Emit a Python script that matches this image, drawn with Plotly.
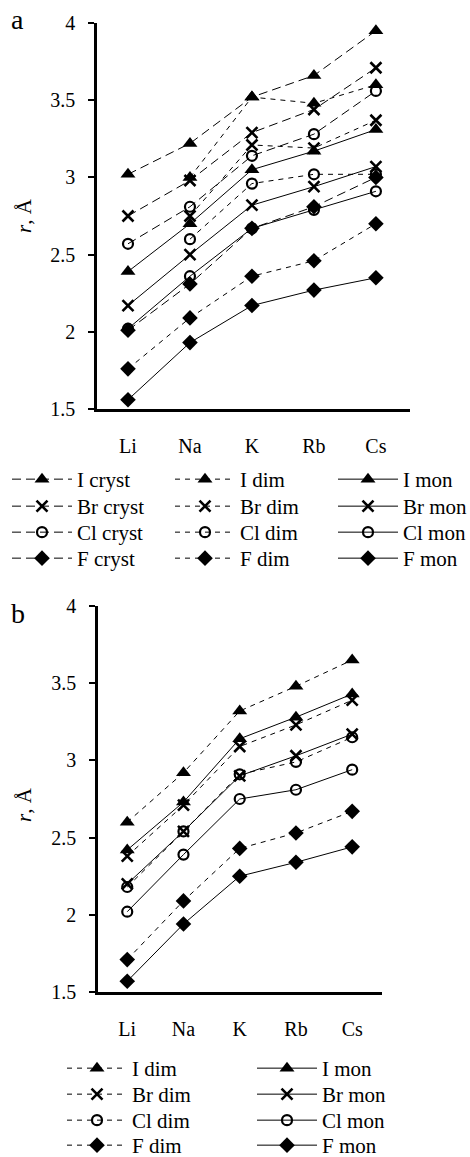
import plotly.graph_objects as go

W, H = 470, 1157

metals = ["Li", "Na", "K", "Rb", "Cs"]
halogens = ["I", "Br", "Cl", "F"]
y_ticks = [1.5, 2, 2.5, 3, 3.5, 4]
y_tick_text = ["1.5", "2", "2.5", "3", "3.5", "4"]

# ---- panel a ----
a_I_cryst = [3.02, 3.22, 3.52, 3.66, 3.95]
a_Br_cryst = [2.75, 2.98, 3.29, 3.44, 3.71]
a_Cl_cryst = [2.57, 2.81, 3.14, 3.28, 3.56]
a_F_cryst = [2.01, 2.31, 2.67, 2.81, 3.00]

a_I_dim = [None, 3.00, 3.52, 3.48, 3.60]
a_Br_dim = [None, 2.75, 3.21, 3.19, 3.37]
a_Cl_dim = [None, 2.60, 2.96, 3.02, 3.02]
a_F_dim = [1.76, 2.09, 2.36, 2.46, 2.70]

a_I_mon = [2.39, 2.70, 3.05, 3.17, 3.31]
a_Br_mon = [2.17, 2.50, 2.82, 2.94, 3.07]
a_Cl_mon = [2.02, 2.36, 2.67, 2.79, 2.91]
a_F_mon = [1.56, 1.93, 2.17, 2.27, 2.35]

# ---- panel b ----
b_I_dim = [2.60, 2.92, 3.32, 3.48, 3.65]
b_Br_dim = [2.38, 2.71, 3.09, 3.23, 3.39]
b_Cl_dim = [2.18, 2.54, 2.91, 2.99, 3.15]
b_F_dim = [1.71, 2.09, 2.43, 2.53, 2.67]

b_I_mon = [2.42, 2.73, 3.14, 3.28, 3.43]
b_Br_mon = [2.20, 2.54, 2.90, 3.03, 3.17]
b_Cl_mon = [2.02, 2.39, 2.75, 2.81, 2.94]
b_F_mon = [1.57, 1.94, 2.25, 2.34, 2.44]

FONT = "Liberation Serif, Times New Roman, serif"
LEG_FONT = 21
ITEM_OFF = 21  # distance from legend top to item centre

marker_style = {
    "I": dict(symbol="triangle-up", size=13, color="black"),
    "Br": dict(symbol="x-thin", size=11, color="black", line=dict(width=2.6, color="black")),
    "Cl": dict(symbol="circle-open", size=10, color="black", line=dict(width=2.2, color="black")),
    "F": dict(symbol="diamond", size=12, color="black"),
}
dash_style = {"cryst": "9px,5px", "dim": "5px,5px", "mon": "solid"}

x_idx = list(range(len(metals)))


def px_x(p):
    return p / W


def px_y(p):
    return 1 - p / H


fig = go.Figure()
legend_layouts = {}
leg_common = dict(
    bgcolor="rgba(0,0,0,0)", borderwidth=0, itemwidth=60,
    font=dict(family=FONT, size=LEG_FONT, color="black"),
    xanchor="left", yanchor="top", xref="paper", yref="paper",
    itemclick=False, itemdoubleclick=False, visible=True,
)
counter = [0]


def add(vals, hal, kind, xa, ya, lx, ly):
    counter[0] += 1
    key = "legend" if counter[0] == 1 else f"legend{counter[0]}"
    fig.add_trace(go.Scatter(
        x=x_idx, y=vals, mode="lines+markers",
        name=f"{hal} {kind}", showlegend=True,
        line=dict(color="black", width=1, dash=dash_style[kind]),
        marker=marker_style[hal],
        xaxis=xa, yaxis=ya, legend=key,
    ))
    legend_layouts[key] = dict(x=px_x(lx), y=px_y(ly - ITEM_OFF), **leg_common)


panel_a = {
    "cryst": [a_I_cryst, a_Br_cryst, a_Cl_cryst, a_F_cryst],
    "dim": [a_I_dim, a_Br_dim, a_Cl_dim, a_F_dim],
    "mon": [a_I_mon, a_Br_mon, a_Cl_mon, a_F_mon],
}
panel_b = {
    "dim": [b_I_dim, b_Br_dim, b_Cl_dim, b_F_dim],
    "mon": [b_I_mon, b_Br_mon, b_Cl_mon, b_F_mon],
}

rows_a = [480, 507, 533, 559]
rows_b = [1069, 1095, 1121, 1146]
cols_a = {"cryst": 7, "dim": 170, "mon": 333}
cols_b = {"dim": 62, "mon": 252}

for kind in ["cryst", "dim", "mon"]:
    for hal, vals, ry in zip(halogens, panel_a[kind], rows_a):
        add(vals, hal, kind, "x", "y", cols_a[kind], ry)
for kind in ["dim", "mon"]:
    for hal, vals, ry in zip(halogens, panel_b[kind], rows_b):
        add(vals, hal, kind, "x2", "y2", cols_b[kind], ry)

xcommon = dict(
    tickvals=x_idx, ticktext=metals, showline=True, linecolor="black", linewidth=2.5,
    ticks="", showgrid=False, zeroline=False, ticklabelstandoff=17, automargin=False,
    tickfont=dict(family=FONT, size=20, color="black"),
)
ycommon = dict(
    range=[1.5, 4], tickvals=y_ticks, ticktext=y_tick_text, showline=True,
    linecolor="black", linewidth=2.5, ticks="outside", ticklen=6, tickwidth=2,
    tickcolor="black", showgrid=False, zeroline=False, ticklabelstandoff=9,
    automargin=False,
    tickfont=dict(family=FONT, size=20, color="black"),
)

fig.update_layout(
    width=W, height=H, margin=dict(l=0, r=0, t=0, b=0, autoexpand=False),
    paper_bgcolor="white", plot_bgcolor="white", showlegend=True,
    font=dict(family=FONT, size=20, color="black"),
    xaxis=dict(domain=[px_x(97), px_x(410)], range=[-0.5, 4.55], anchor="y", **xcommon),
    yaxis=dict(domain=[px_y(409), px_y(23)], anchor="x", **ycommon),
    xaxis2=dict(domain=[px_x(98), px_x(382)], range=[-0.52, 4.53], anchor="y2", **xcommon),
    yaxis2=dict(domain=[px_y(992), px_y(606)], anchor="x2", **ycommon),
    **legend_layouts,
)

annots = [
    dict(text="a", x=px_x(17), y=px_y(20), font=dict(family=FONT, size=28)),
    dict(text="b", x=px_x(18), y=px_y(613), font=dict(family=FONT, size=28)),
    dict(text="<i>r</i>, Å", x=px_x(24), y=px_y(216), textangle=-90,
         font=dict(family=FONT, size=21)),
    dict(text="<i>r</i>, Å", x=px_x(24), y=px_y(805), textangle=-90,
         font=dict(family=FONT, size=21)),
]
for a in annots:
    fig.add_annotation(xref="paper", yref="paper", showarrow=False,
                       xanchor="center", yanchor="middle", **a)

fig.write_html("out.html")
